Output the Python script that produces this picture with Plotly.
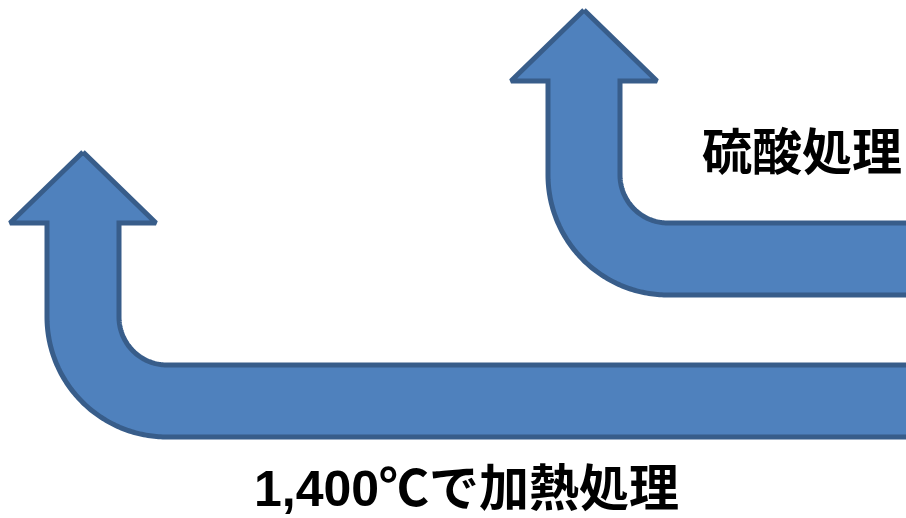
import numpy as np
import plotly.graph_objects as go

# Labels
labels = ["硫酸処理", "1,400℃で加熱処理"]

W, H = 906, 518
FILL = "#4F81BD"
EDGE = "#385D8A"

# Arrow geometry (pixel units, y downwards)
SHAFT_W = 72
HEAD_HALF = 73
HEAD_H = 71
R_IN = 48


def bent_arrow(cx, tip_y, corner_y):
    """Up-pointing arrow whose shaft bends to the right at the bottom."""
    left = cx - SHAFT_W / 2
    right = cx + SHAFT_W / 2
    base_y = tip_y + HEAD_H
    acx = right + R_IN          # arc centre x
    acy = corner_y              # arc centre y
    r_out = R_IN + SHAFT_W
    xs, ys = [cx, cx + HEAD_HALF, right, right], [tip_y, base_y, base_y, acy]
    t = np.linspace(np.pi, np.pi / 2, 60)
    xs += list(acx + R_IN * np.cos(t)); ys += list(acy + R_IN * np.sin(t))
    xs += [W + 20, W + 20]; ys += [acy + R_IN, acy + r_out]
    t = np.linspace(np.pi / 2, np.pi, 90)
    xs += list(acx + r_out * np.cos(t)); ys += list(acy + r_out * np.sin(t))
    xs += [left, left, cx - HEAD_HALF, cx]; ys += [base_y, base_y, base_y, tip_y]
    return xs, ys


fig = go.Figure()
for cx, tip_y, corner_y in [(584, 10, 175), (83, 152, 317)]:
    xs, ys = bent_arrow(cx, tip_y, corner_y)
    fig.add_trace(go.Scatter(x=xs, y=ys, mode="lines", fill="toself",
                             fillcolor=FILL,
                             line=dict(color=EDGE, width=5, simplify=False),
                             hoverinfo="skip", showlegend=False))

font = dict(family="Liberation Sans, Noto Sans CJK JP", size=50,
            color="black", weight="bold")
fig.add_annotation(x=802, y=153, text=labels[0], showarrow=False,
                   font=font, xanchor="center", yanchor="middle")
fig.add_annotation(x=466, y=489, text=labels[1], showarrow=False,
                   font=font, xanchor="center", yanchor="middle")

fig.update_xaxes(range=[0, W], visible=False, fixedrange=True)
fig.update_yaxes(range=[H, 0], visible=False, fixedrange=True)
fig.update_layout(width=W, height=H, margin=dict(l=0, r=0, t=0, b=0),
                  plot_bgcolor="white", paper_bgcolor="white")
fig.write_html("out.html", config={"displayModeBar": False},
               post_script="document.body.style.margin='0';"
                           "document.body.style.overflow='hidden';")
